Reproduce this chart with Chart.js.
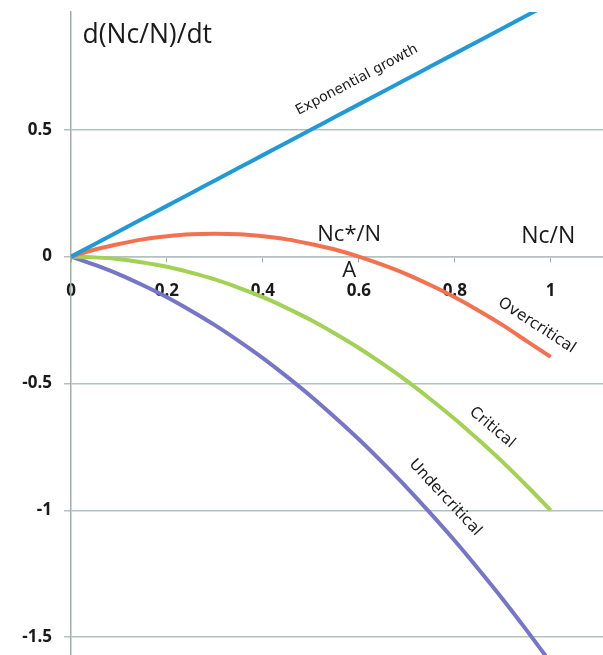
<!DOCTYPE html>
<html>
<head>
<meta charset="utf-8">
<script src="https://cdn.jsdelivr.net/npm/chart.js@4/dist/chart.umd.min.js"></script>
<style>
  html, body { margin: 0; padding: 0; background: #ffffff; overflow: hidden; }
  #wrap { width: 603px; height: 655px; }
</style>
</head>
<body>
<div id="wrap"><canvas id="c" width="603" height="655"></canvas></div>
<script>
// Fraction Nc/N sampled along the horizontal axis
const fraction = [0, 0.05, 0.1, 0.15, 0.2, 0.25, 0.3, 0.35, 0.4, 0.45, 0.5,
                  0.55, 0.6, 0.65, 0.7, 0.75, 0.8, 0.85, 0.9, 0.95, 1.0];

// Rate d(Nc/N)/dt for each regime
const exponentialGrowth = [0, 0.05, 0.1, 0.15, 0.2, 0.25, 0.3, 0.35, 0.4, 0.45, 0.5,
                           0.55, 0.6, 0.65, 0.7, 0.75, 0.8, 0.85, 0.9, 0.95, 1.0];
const overcritical = [0, 0.028, 0.05, 0.068, 0.08, 0.088, 0.09, 0.088, 0.08, 0.068, 0.05,
                      0.028, 0, -0.033, -0.07, -0.113, -0.16, -0.213, -0.27, -0.333, -0.395];
const critical = [0, -0.003, -0.01, -0.023, -0.04, -0.063, -0.09, -0.123, -0.16, -0.203, -0.25,
                  -0.303, -0.36, -0.423, -0.49, -0.563, -0.64, -0.723, -0.81, -0.903, -1.0];
const undercritical = [0, -0.033, -0.07, -0.113, -0.16, -0.213, -0.27, -0.333, -0.4, -0.473, -0.55,
                       -0.633, -0.72, -0.813, -0.91, -1.013, -1.12, -1.233, -1.35, -1.473, -1.6];

// Axis tick values
const xTickValues = [0, 0.2, 0.4, 0.6, 0.8, 1];
const yTickValues = [-1.5, -1, -0.5, 0, 0.5];

const toPoints = ys => fraction.map((x, i) => ({ x: x, y: ys[i] }));

const GRID = '#b3c1c1';
const AXIS = '#a3abab';

// Text placed on the plot, anchored in data coordinates
const notes = [
  { text: 'd(Nc/N)/dt', x: 0.024, y: 0.873, angle: 0, align: 'left', font: '26.5px "Open Sans"' },
  { text: 'Nc*/N', x: 0.58, y: 0.087, angle: 0, align: 'center', font: '22px "Open Sans"' },
  { text: 'A', x: 0.58, y: -0.055, angle: 0, align: 'center', font: '22px "Open Sans"' },
  { text: 'Nc/N', x: 0.995, y: 0.08, angle: 0, align: 'center', font: '23px "Open Sans"' },
  { text: 'Exponential growth', x: 0.596, y: 0.696, angle: -27.9, align: 'center', font: '14px "DejaVu Sans"' },
  { text: 'Overcritical', x: 0.971, y: -0.272, angle: 33, align: 'center', font: '15.5px "DejaVu Sans"' },
  { text: 'Critical', x: 0.878, y: -0.674, angle: 40, align: 'center', font: '15.5px "DejaVu Sans"' },
  { text: 'Undercritical', x: 0.78, y: -0.95, angle: 47, align: 'center', font: '15.5px "DejaVu Sans"' }
];

const notesPlugin = {
  id: 'notes',
  afterDatasetsDraw(chart) {
    const { ctx, scales } = chart;
    ctx.save();
    ctx.fillStyle = '#1a1a1a';
    ctx.textBaseline = 'middle';
    notes.forEach(n => {
      const px = scales.x.getPixelForValue(n.x);
      const py = scales.y.getPixelForValue(n.y);
      ctx.save();
      ctx.translate(px, py);
      ctx.rotate(n.angle * Math.PI / 180);
      ctx.font = n.font;
      ctx.textAlign = n.align;
      ctx.fillText(n.text, 0, 0);
      ctx.restore();
    });
    ctx.restore();
  }
};

const line = (label, ys, color) => ({
  label: label,
  data: toPoints(ys),
  borderColor: color,
  borderWidth: 4,
  pointRadius: 0,
  cubicInterpolationMode: 'monotone',
  fill: false
});

new Chart(document.getElementById('c'), {
  type: 'line',
  data: {
    datasets: [
      line('Exponential growth', exponentialGrowth, '#1f9ad6'),
      line('Overcritical', overcritical, '#f4714f'),
      line('Critical', critical, '#a2d154'),
      line('Undercritical', undercritical, '#7676c9')
    ]
  },
  options: {
    responsive: false,
    devicePixelRatio: 1,
    animation: false,
    layout: { padding: { top: 12, left: 0, right: 0, bottom: 0 } },
    plugins: { legend: { display: false }, tooltip: { enabled: false } },
    scales: {
      x: {
        type: 'linear',
        position: { y: 0 },
        min: 0,
        max: 1.109,
        afterBuildTicks: s => { s.ticks = xTickValues.map(v => ({ value: v })); },
        afterFit: s => { s.height = 0; s.paddingLeft = 0; s.paddingRight = 0; },
        grid: { drawOnChartArea: false, drawTicks: true, tickLength: 5, color: AXIS, lineWidth: 1 },
        border: { display: true, color: GRID, width: 1.5 },
        ticks: {
          color: '#1a1a1a',
          font: { family: '"Open Sans"', size: 17, weight: 'bold' },
          padding: 19,
          maxRotation: 0,
          callback: v => String(v)
        }
      },
      y: {
        type: 'linear',
        position: 'left',
        min: -1.57,
        max: 0.964,
        afterBuildTicks: s => { s.ticks = yTickValues.map(v => ({ value: v })); },
        afterFit: s => { s.width = 71; s.paddingTop = 0; s.paddingBottom = 0; },
        grid: { color: GRID, lineWidth: 1.5, tickLength: 7 },
        border: { display: true, color: AXIS, width: 1.5 },
        ticks: {
          color: '#1a1a1a',
          font: { family: '"Open Sans"', size: 17, weight: 'bold' },
          padding: 12,
          callback: v => String(v)
        }
      }
    }
  },
  plugins: [notesPlugin]
});
</script>
</body>
</html>
